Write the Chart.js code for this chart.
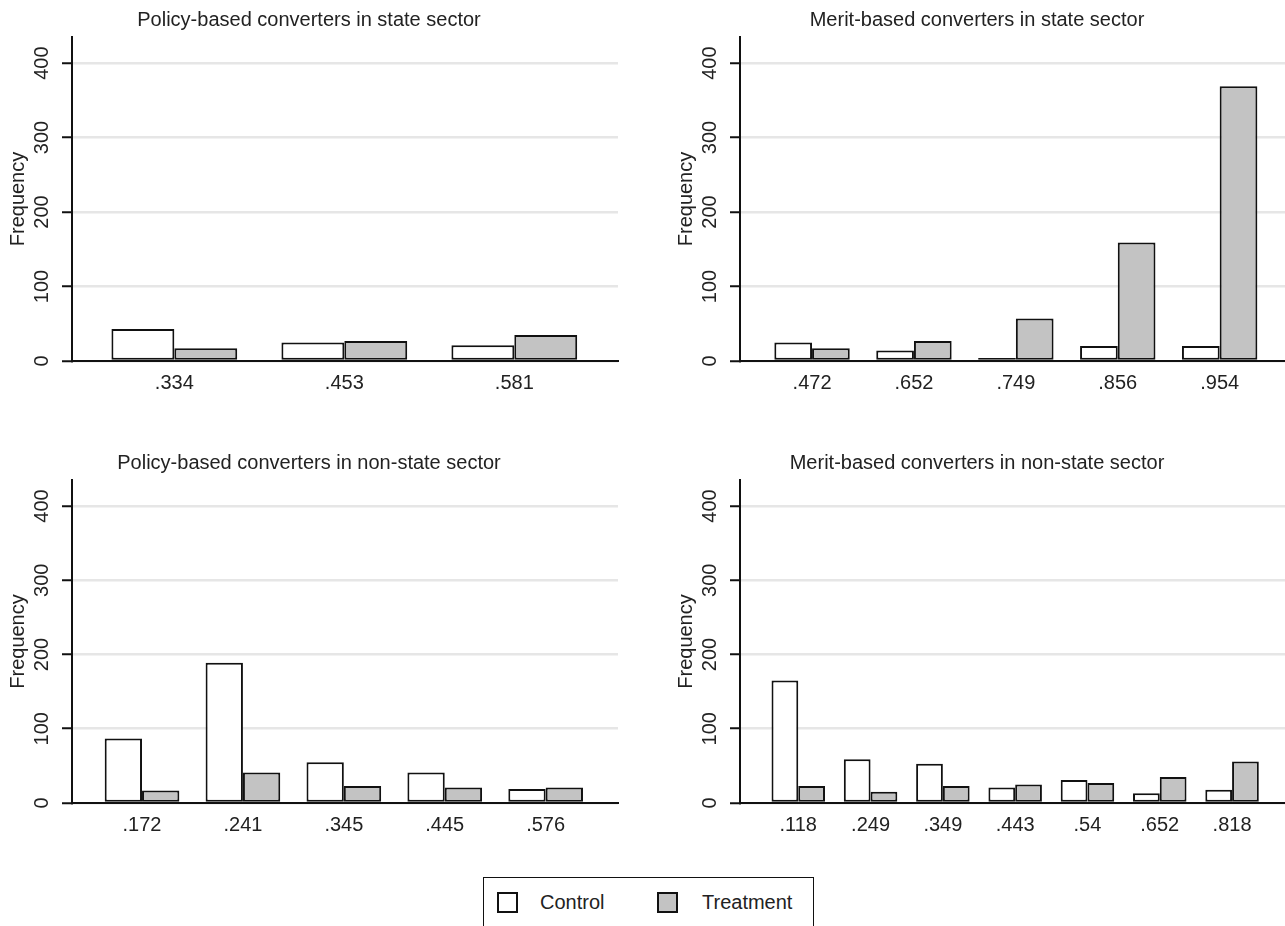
<!DOCTYPE html>
<html>
<head>
<meta charset="utf-8">
<script src="https://cdn.jsdelivr.net/npm/chart.js@4.4.1/dist/chart.umd.min.js"></script>
<style>
  html, body { margin: 0; padding: 0; background: #fff; overflow: hidden; }
  body { width: 1285px; height: 926px; position: relative; font-family: "Liberation Sans", Arial, sans-serif; }
  canvas { position: absolute; }
  .legend-frame { position: absolute; left: 483px; top: 877px; width: 331px; height: 70px; border: 1.5px solid #111; box-sizing: border-box; }
  .swatch { position: absolute; width: 21px; height: 21px; border: 2px solid #111; box-sizing: border-box; }
  .legend-text { position: absolute; font-size: 20px; line-height: 24px; color: #222; }
</style>
</head>
<body>
<canvas id="chart1" width="690" height="400" style="left:0px;top:0px"></canvas>
<canvas id="chart2" width="690" height="400" style="left:668px;top:0px"></canvas>
<canvas id="chart3" width="690" height="399" style="left:0px;top:443px"></canvas>
<canvas id="chart4" width="690" height="399" style="left:668px;top:443px"></canvas>

<div class="legend-frame"></div>
<div class="swatch" style="left:497px;top:892px;background:#fff"></div>
<div class="legend-text" style="left:540px;top:890px">Control</div>
<div class="swatch" style="left:657px;top:892px;background:#c3c3c3"></div>
<div class="legend-text" style="left:702px;top:890px">Treatment</div>

<script>
'use strict';

// panel titles
const titles = [
    'Policy-based converters in state sector',
    'Merit-based converters in state sector',
    'Policy-based converters in non-state sector',
    'Merit-based converters in non-state sector'
];

// x categories per panel
const labels1 = ['.334', '.453', '.581'];
const labels2 = ['.472', '.652', '.749', '.856', '.954'];
const labels3 = ['.172', '.241', '.345', '.445', '.576'];
const labels4 = ['.118', '.249', '.349', '.443', '.54', '.652', '.818'];

// frequencies
const control1 = [43, 25, 21];
const treatment1 = [17, 27, 35];
const control2 = [25, 14, 4, 20, 20];
const treatment2 = [17, 27, 57, 159, 369];
const control3 = [87, 189, 55, 41, 19];
const treatment3 = [17, 41, 23, 21, 21];
const control4 = [165, 59, 53, 21, 31, 13, 18];
const treatment4 = [23, 15, 23, 25, 27, 35, 56];

const yTicks = [0, 100, 200, 300, 400];
const yMax = 435;

// x extent of each panel in category units (stata leaves uneven margins)
const xRange1 = [-0.602, 2.61];
const xRange2 = [-0.707, 4.651];
const xRange3 = [-0.694, 4.717];
const xRange4 = [-0.806, 6.746];

Chart.defaults.font.family = '"Liberation Sans", Arial, sans-serif';
Chart.defaults.font.size = 20;
Chart.defaults.color = '#222';

function toPoints(vals) {
    return vals.map(function (v, i) { return { x: i, y: v }; });
}

function makeChart(id, title, labels, control, treatment, range) {
    return new Chart(document.getElementById(id), {
        type: 'bar',
        data: {
            datasets: [{
                label: 'Control',
                data: toPoints(control),
                backgroundColor: '#ffffff',
                borderColor: '#111',
                borderWidth: 2,
                borderSkipped: false
            }, {
                label: 'Treatment',
                data: toPoints(treatment),
                backgroundColor: '#c3c3c3',
                borderColor: '#111',
                borderWidth: 2,
                borderSkipped: false
            }]
        },
        options: {
            responsive: false,
            animation: false,
            datasets: { bar: { barPercentage: 1, categoryPercentage: 0.74 } },
            layout: { padding: { left: 0, right: 72, top: 0, bottom: 0 } },
            plugins: {
                legend: { display: false },
                tooltip: { enabled: false },
                title: {
                    display: true,
                    text: title,
                    color: '#222',
                    font: { size: 20, weight: 'normal' },
                    padding: { top: 8, bottom: 5 }
                }
            },
            scales: {
                x: {
                    type: 'linear',
                    min: range[0],
                    max: range[1],
                    bounds: 'data',
                    offset: false,
                    grid: { display: false, drawTicks: false, offset: false },
                    border: { color: '#111', width: 2 },
                    afterBuildTicks: function (s) {
                        s.ticks = labels.map(function (_, i) { return { value: i }; });
                    },
                    ticks: {
                        padding: 10,
                        autoSkip: false,
                        maxRotation: 0,
                        callback: function (v) { return labels[v]; }
                    },
                    afterFit: function (s) { s.height = 39; }
                },
                y: {
                    min: 0,
                    max: yMax,
                    bounds: 'data',
                    afterBuildTicks: function (s) {
                        s.ticks = yTicks.map(function (v) { return { value: v }; });
                    },
                    grid: { color: '#e6e6e6', lineWidth: 2.5, tickColor: '#111', tickLength: 10, tickWidth: 2 },
                    border: { color: '#111', width: 2 },
                    ticks: { minRotation: 90, maxRotation: 90, crossAlign: 'center', padding: 3 },
                    title: { display: true, text: 'Frequency', padding: { top: 6, bottom: 0 } },
                    afterFit: function (s) { s.width = 72; }
                }
            }
        }
    });
}

makeChart('chart1', titles[0], labels1, control1, treatment1, xRange1);
makeChart('chart2', titles[1], labels2, control2, treatment2, xRange2);
makeChart('chart3', titles[2], labels3, control3, treatment3, xRange3);
makeChart('chart4', titles[3], labels4, control4, treatment4, xRange4);
</script>
</body>
</html>
